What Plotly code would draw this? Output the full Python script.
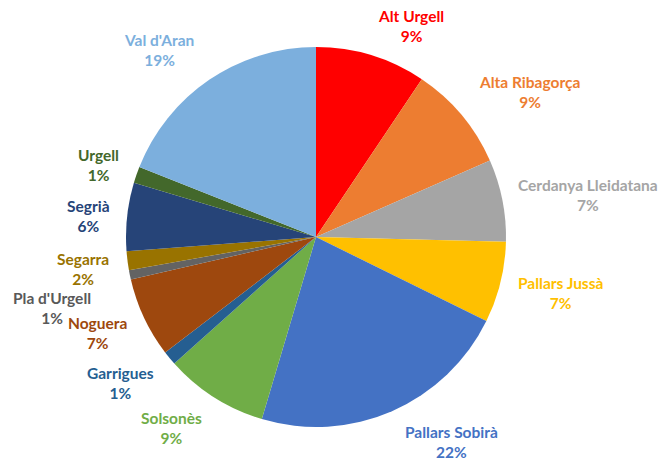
import plotly.graph_objects as go

W, H = 667, 463
OFF = 8  # browser body margin offset

regions = ["Alt Urgell", "Alta Ribagorça", "Cerdanya Lleidatana", "Pallars Jussà",
           "Pallars Sobirà", "Solsonès", "Garrigues", "Noguera", "Pla d'Urgell",
           "Segarra", "Segrià", "Urgell", "Val d'Aran"]
shares = [9.4, 9.0, 7.0, 6.9, 22.3, 8.8, 1.2, 6.8, 0.8, 1.6, 5.8, 1.4, 19.0]
pct_labels = ["9%", "9%", "7%", "7%", "22%", "9%", "1%", "7%", "1%", "2%", "6%", "1%", "19%"]
slice_colors = ["#FF0000", "#ED7D31", "#A5A5A5", "#FFC000", "#4472C4", "#70AD47",
                "#255E91", "#9E480E", "#636363", "#997300", "#264478", "#43682B", "#7CAFDD"]
text_colors = ["#FF0000", "#ED7D31", "#A5A5A5", "#FFC000", "#4472C4", "#70AD47",
               "#255E91", "#9E480E", "#595959", "#997300", "#264478", "#43682B", "#7CAFDD"]

# label centre positions in screen pixels (layout only)
label_pos = [(411, 26), (529, 92), (588, 195), (560, 293), (451, 442), (171, 428),
             (121, 383), (97, 333), (52, 308), (83, 269), (88, 216), (98, 165), (159, 50)]

cx, cy, r = 316 - OFF, 237 - OFF, 190

fig = go.Figure(go.Pie(
    labels=regions, values=shares, sort=False, direction="clockwise", rotation=0,
    marker=dict(colors=slice_colors, line=dict(width=0)),
    textinfo="none", hoverinfo="label+percent", showlegend=False,
    domain=dict(x=[(cx - r) / W, (cx + r) / W], y=[(H - cy - r) / H, (H - cy + r) / H]),
))

for name, pct, col, (px, py) in zip(regions, pct_labels, text_colors, label_pos):
    fig.add_annotation(
        x=(px - OFF) / W, y=1 - (py - OFF) / H, xref="paper", yref="paper",
        text=f"<b>{name}</b><br><b>{pct}</b>", showarrow=False,
        xanchor="center", yanchor="middle", align="center", borderpad=0,
        font=dict(family="Lato, Open Sans, sans-serif", size=15.5, color=col),
    )

fig.update_layout(
    width=W, height=H, margin=dict(l=0, r=0, t=0, b=0),
    paper_bgcolor="white", plot_bgcolor="white",
)

fig.write_html("out.html")
